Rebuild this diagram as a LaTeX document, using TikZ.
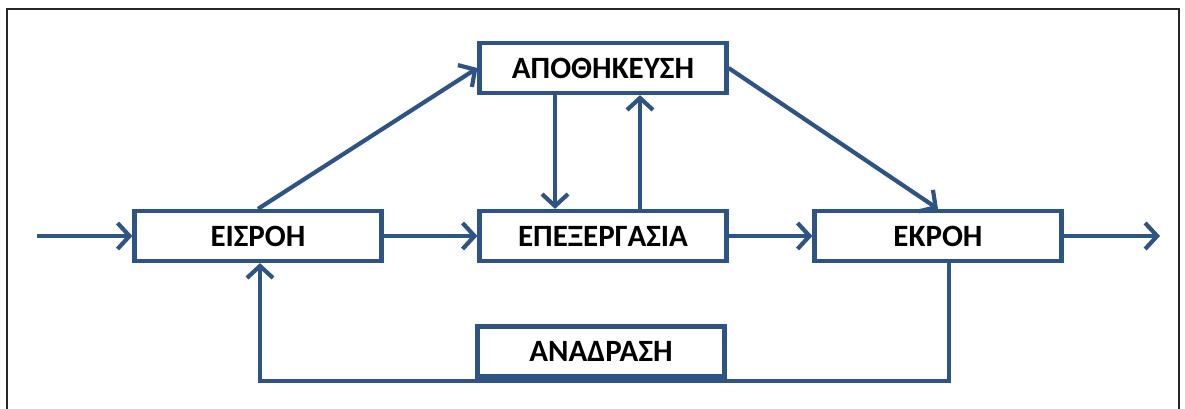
\documentclass[tikz,border=0pt]{standalone}
\usepackage{fontspec}
\setmainfont{Carlito}
\usetikzlibrary{arrows.meta}
\definecolor{flow}{RGB}{46,84,134}
\begin{document}
\begin{tikzpicture}[x=1pt,y=-1pt,
  blk/.style={draw=flow, line width=4.2pt, minimum width=247pt, minimum height=50pt,
    inner sep=0pt, fill=white, text=black, font=\fontsize{31}{34}\selectfont\bfseries},
  link/.style={draw=flow, line width=4.2pt,
    -{Straight Barb[length=12pt,width=26pt,line width=4.2pt]}},
  wire/.style={draw=flow, line width=4.2pt}]
\useasboundingbox (0,0) rectangle (1185,408);
\clip (0,0) rectangle (1185,408);
% outer frame (open at the bottom edge of the page)
\draw[line width=2.5pt, black!85] (7,430) -- (7,9) -- (1179,9) -- (1179,430);

% blocks
\node[blk] (eisroh) at (258,236) {ΕΙΣΡΟΗ};
\node[blk] (apoth)  at (603,68)  {ΑΠΟΘΗΚΕΥΣΗ};
\node[blk] (epex)   at (603,236) {ΕΠΕΞΕΡΓΑΣΙΑ};
\node[blk] (ekroh)  at (938,236) {ΕΚΡΟΗ};
\node[blk] (anadr)  at (601,351.5) {ΑΝΑΔΡΑΣΗ};

% free ends and corners
\coordinate (in)  at (37,236);
\coordinate (out) at (1160,236);
\coordinate (fbR) at (949,381);
\coordinate (fbL) at (260,381);

% main flow
\draw[link] (in) -- (eisroh.west);
\draw[link] (eisroh.east) -- (epex.west);
\draw[link] (epex.east) -- (ekroh.west);
\draw[link] (ekroh.east) -- (out);

% storage links
\draw[link] (eisroh.north) -- (apoth.west);
\draw[link] (apoth.east) -- (ekroh.north);
\draw[link] ([xshift=-48pt]apoth.south) -- ([xshift=-48pt]epex.north);
\draw[link] ([xshift=37pt]epex.north) -- ([xshift=37pt]apoth.south);

% feedback loop
\draw[link] (ekroh.south -| fbR) -- (fbR) -- (fbL) -- (eisroh.south -| fbL);
\end{tikzpicture}
\end{document}
